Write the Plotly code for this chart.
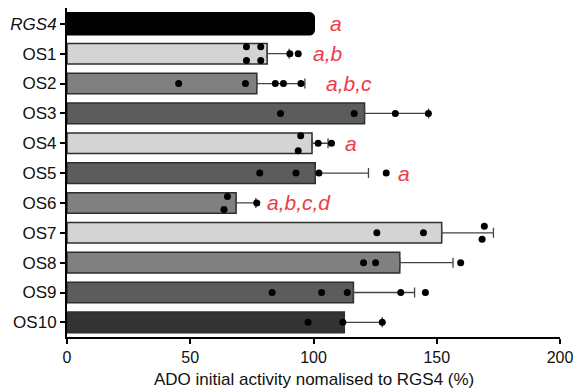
import plotly.graph_objects as go

categories = ["RGS4", "OS1", "OS2", "OS3", "OS4", "OS5", "OS6", "OS7", "OS8", "OS9", "OS10"]
tick_labels = ["<i>RGS4</i>", "OS1", "OS2", "OS3", "OS4", "OS5", "OS6", "OS7", "OS8", "OS9", "OS10"]
mean_activity = [100.0, 81.2, 77.0, 120.7, 99.4, 100.7, 68.6, 152.0, 135.0, 116.2, 112.5]
sd_activity = [0.0, 8.9, 19.5, 26.0, 6.5, 21.6, 8.0, 21.0, 21.6, 24.8, 15.4]
replicates = [
    [],
    [72.8, 72.8, 78.6, 78.6, 90.4, 93.8],
    [45.3, 72.4, 84.5, 87.8, 94.9],
    [86.6, 116.5, 133.2, 146.6],
    [94.8, 93.8, 101.9, 107.3],
    [78.2, 92.9, 102.2, 129.5],
    [65.1, 63.7, 77.0],
    [125.7, 144.6, 169.3, 168.4],
    [120.3, 125.2, 159.7],
    [83.2, 103.3, 113.7, 135.4, 145.4],
    [97.8, 111.9, 127.9],
]
sig_letters = ["a", "a,b", "a,b,c", "", "a", "a", "a,b,c,d", "", "", "", ""]
x_title = "ADO initial activity nomalised to RGS4 (%)"

# styling / placement (not data)
bar_colors = ["#000000", "#d4d4d4", "#808080", "#5c5c5c", "#d4d4d4", "#5c5c5c",
              "#808080", "#d4d4d4", "#808080", "#5c5c5c", "#333333"]
dot_jitter = [
    [],
    [-0.23, 0.23, -0.23, 0.23, 0, 0],
    [0, 0, 0, 0, 0],
    [0, 0, 0, 0],
    [-0.25, 0.25, 0, 0],
    [0, 0, 0, 0],
    [-0.22, 0.22, 0],
    [0, 0, -0.22, 0.22],
    [0, 0, 0],
    [0, 0, 0, 0, 0],
    [0, 0, 0],
]
letter_x = [106.0, 98.8, 104.2, 0, 112.0, 133.4, 80.5, 0, 0, 0, 0]

FONT = "Liberation Sans, Arial, sans-serif"
idx = list(range(len(categories)))

fig = go.Figure()

for i, cat in enumerate(categories):
    fig.add_trace(go.Bar(
        x=[mean_activity[i]], y=[idx[i]], orientation="h", width=0.69,
        marker=dict(color=bar_colors[i],
                    line=dict(color="#000000" if i == 0 else "#2e2e2e",
                              width=3 if i == 0 else 1.5),
                    cornerradius=4 if i == 0 else 0),
        error_x=dict(type="data", array=[sd_activity[i]], arrayminus=[0],
                     symmetric=False, visible=sd_activity[i] > 0,
                     color="#444444", thickness=1.3, width=5),
        showlegend=False, hoverinfo="skip",
    ))

for i, vals in enumerate(replicates):
    if not vals:
        continue
    fig.add_trace(go.Scatter(
        x=vals, y=[idx[i] + j for j in dot_jitter[i]], mode="markers",
        marker=dict(color="black", size=7), showlegend=False, hoverinfo="skip",
    ))

for i, lab in enumerate(sig_letters):
    if lab:
        fig.add_annotation(x=letter_x[i], y=idx[i], text=f"<i>{lab}</i>", showarrow=False,
                           xanchor="left", yanchor="middle",
                           font=dict(family=FONT, size=21, color="#ee3b47"))

fig.add_annotation(x=0.5, y=-0.130, xref="paper", yref="paper", text=x_title,
                   showarrow=False, xanchor="center", yanchor="middle",
                   font=dict(size=17, family=FONT, color="#111111"))

fig.update_layout(
    width=573, height=389,
    margin=dict(l=67, r=13, t=8, b=52),
    paper_bgcolor="white", plot_bgcolor="white",
    font=dict(family=FONT, color="#111111"),
    xaxis=dict(range=[0, 200], tickvals=[0, 50, 100, 150, 200], ticks="outside",
               ticklen=5, tickwidth=1.5, tickcolor="black", automargin=False,
               ticklabeloverflow="allow",
               showline=True, linecolor="black", linewidth=2, showgrid=False, zeroline=False,
               tickfont=dict(size=16, family=FONT, color="#111111")),
    yaxis=dict(range=[10.49, -0.53], tickvals=idx, ticktext=tick_labels, ticks="outside",
               ticklen=5, tickwidth=1.5, tickcolor="black", automargin=False,
               showline=True, linecolor="black", linewidth=2, showgrid=False, zeroline=False,
               tickfont=dict(size=17, family=FONT, color="#111111")),
)

# remove the page's default body margin so the figure fills the window exactly
fig.write_html("out.html", config={"displayModeBar": False},
               post_script="document.body.style.margin='0';document.body.style.overflow='hidden';")
